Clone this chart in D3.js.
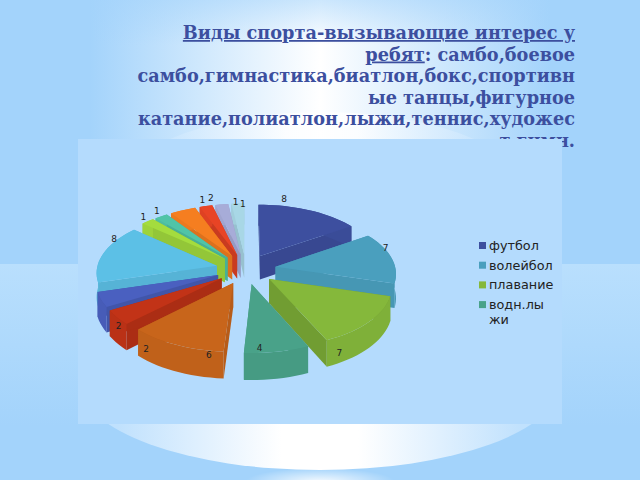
<!DOCTYPE html>
<html><head><meta charset="utf-8">
<script src="https://cdn.jsdelivr.net/npm/d3@7"></script>
<style>html,body{margin:0;padding:0;background:#a3d3fb;overflow:hidden}svg{display:block}</style>
</head><body><svg id="c" width="640" height="480"></svg>
<script>
const legendNames = ["футбол","волейбол","плавание","водн.лыжи"];
const values = [8,7,7,4,6,2,2,8,1,1,2,1,1,1];
const labels = ["8","7","7","4","6","2","2","8","1","1","2","1","1","1"];
const colors = ["#3d4f9f","#4a9fbe","#85b83b","#49a289","#c8651b","#c23317","#4a60c0","#5cc0e6","#a4dc3e","#50c4a7","#f57e20","#e84425","#a7acd8","#a8d7e6"];
const cutShade = [.25,.15,.45,.15,.25,.35,.35,.2,.3,.3,.3,.4,.3,.3];
const titleLines = [
 ["Виды спорта-вызывающие интерес у",""],
 ["ребят",": самбо,боевое"],
 ["","самбо,гимнастика,биатлон,бокс,спортивн"],
 ["","ые танцы,фигурное"],
 ["","катание,полиатлон,лыжи,теннис,художес"],
 ["","т.гимн."]
];
const labelNudge = [[-26,-10],[-8,-10],[-32,30],[-18,-5],[34,9],[31,31],[20,26],[13,-14],[-3,-4],[-3,-5],[29,-11],[-3,-5],[14,-1],[5,1]];

const svg = d3.select("#c");
const defs = svg.append("defs");
const top_ = defs.append("linearGradient").attr("id","topg");
top_.append("stop").attr("offset",.14).attr("stop-color","#a3d3fb");
top_.append("stop").attr("offset",.5).attr("stop-color","#fff");
top_.append("stop").attr("offset",.86).attr("stop-color","#a3d3fb");
const fade = defs.append("linearGradient").attr("id","fade").attr("x1",0).attr("y1",0).attr("x2",0).attr("y2",1);
fade.append("stop").attr("offset",0).attr("stop-color","#a3d3fb").attr("stop-opacity",.55);
fade.append("stop").attr("offset",1).attr("stop-color","#a3d3fb").attr("stop-opacity",0);
const low = defs.append("linearGradient").attr("id","low").attr("x1",0).attr("y1",0).attr("x2",0).attr("y2",1);
low.append("stop").attr("offset",0).attr("stop-color","#b9dffd");
low.append("stop").attr("offset",.75).attr("stop-color","#a3d3fb");
low.append("stop").attr("offset",1).attr("stop-color","#a3d3fb");
const glow = defs.append("radialGradient").attr("id","glow").attr("cx",.5).attr("cy",.5).attr("r",.5);
glow.append("stop").attr("offset",0).attr("stop-color","#fff").attr("stop-opacity",.9);
glow.append("stop").attr("offset",1).attr("stop-color","#fff").attr("stop-opacity",0);
const lens = defs.append("linearGradient").attr("id","lens");
lens.append("stop").attr("offset",.08).attr("stop-color","#c0e1fd");
lens.append("stop").attr("offset",.42).attr("stop-color","#fff");
lens.append("stop").attr("offset",.58).attr("stop-color","#fff");
lens.append("stop").attr("offset",.92).attr("stop-color","#c0e1fd");

svg.append("rect").attr("width",640).attr("height",264).attr("fill","url(#topg)");
svg.append("rect").attr("width",640).attr("height",45).attr("fill","url(#fade)");
svg.append("rect").attr("y",264).attr("width",640).attr("height",216).attr("fill","url(#low)");
svg.append("ellipse").attr("cx",320).attr("cy",482).attr("rx",75).attr("ry",14).attr("fill","url(#glow)");
svg.append("ellipse").attr("cx",322).attr("cy",204).attr("rx",215).attr("ry",92).attr("fill","url(#lens)").attr("fill-opacity",.75);
svg.append("ellipse").attr("cx",320).attr("cy",383).attr("rx",240).attr("ry",87).attr("fill","url(#lens)");

const title = svg.append("text").attr("font-family","DejaVu Serif").attr("font-weight","bold").attr("font-size",17.7).attr("fill","#3c4f9f").attr("text-anchor","end");
titleLines.forEach((l,i)=>{
  const t = title.append("tspan").attr("x",575).attr("y",39+i*21.5);
  if(l[0]) t.append("tspan").attr("text-decoration","underline").text(l[0]);
  if(l[1]) t.append("tspan").text(l[1]);
});
svg.append("rect").attr("x",78).attr("y",139).attr("width",484).attr("height",285).attr("fill","#b4dbfd");

const CX=246, CY=269, R=120, RY=60, H=24, E=0.25, P=0.1;
const proj=(wx,wy,z=0)=>{const s=1+P*wy;return [CX+R*wx*s, CY+RY*wy*s+H*z*s];};
const pie=d3.pie().sort(null).value(d=>d)(values);
const slices=pie.map((p,i)=>{
  const mid=(p.startAngle+p.endAngle)/2;
  const ox=E*Math.sin(mid), oy=-E*Math.cos(mid);
  const n=Math.max(3,Math.ceil((p.endAngle-p.startAngle)/0.05));
  const angs=d3.range(n+1).map(k=>p.startAngle+(p.endAngle-p.startAngle)*k/n);
  const arcW=angs.map(a=>[ox+Math.sin(a),oy-Math.cos(a)]);
  return {i,mid,ox,oy,arcW,color:colors[i],value:values[i]};
});
const line=d3.line();
const g=svg.append("g");
const order=slices.slice().sort((a,b)=>(a.oy-Math.cos(a.mid)*.5)-(b.oy-Math.cos(b.mid)*.5));
order.forEach(s=>{
  const apex=[s.ox,s.oy];
  const first=s.arcW[0], last=s.arcW[s.arcW.length-1];
  const face=(a,b)=>line([proj(a[0],a[1]),proj(b[0],b[1]),proj(b[0],b[1],1),proj(a[0],a[1],1)])+"Z";
  const cut=d3.color(s.color).darker(cutShade[s.i]).formatHex();
  g.append("path").attr("d",face(apex,first)).attr("fill",cut);
  g.append("path").attr("d",face(apex,last)).attr("fill",cut);
  const top=s.arcW.map(p=>proj(p[0],p[1]));
  const bot=s.arcW.map(p=>proj(p[0],p[1],1)).reverse();
  g.append("path").attr("d",line(top.concat(bot))+"Z").attr("fill",d3.color(s.color).darker(.12).formatHex());
  g.append("path").attr("d",line([proj(apex[0],apex[1])].concat(top))+"Z").attr("fill",s.color);
});
const lab=svg.append("g").attr("font-family","DejaVu Sans").attr("font-size",9).attr("fill","#222").attr("text-anchor","middle");
slices.forEach(s=>{
  const p=proj(s.ox+Math.sin(s.mid)*1.02,s.oy-Math.cos(s.mid)*1.02);
  lab.append("text").attr("x",p[0]+labelNudge[s.i][0]).attr("y",p[1]+labelNudge[s.i][1]+3).text(labels[s.i]);
});
const lg=svg.append("g").attr("font-family","DejaVu Sans").attr("font-size",12.8).attr("fill","#222");
const rows=[[legendNames[0]],[legendNames[1]],[legendNames[2]],["водн.лы","жи"]];
rows.forEach((r,i)=>{
  const y=246+i*19.7;
  lg.append("rect").attr("x",479).attr("y",y-4).attr("width",7).attr("height",7).attr("fill",colors[i]);
  r.forEach((t,j)=>lg.append("text").attr("x",489).attr("y",y+4+j*15).text(t));
});
</script></body></html>
